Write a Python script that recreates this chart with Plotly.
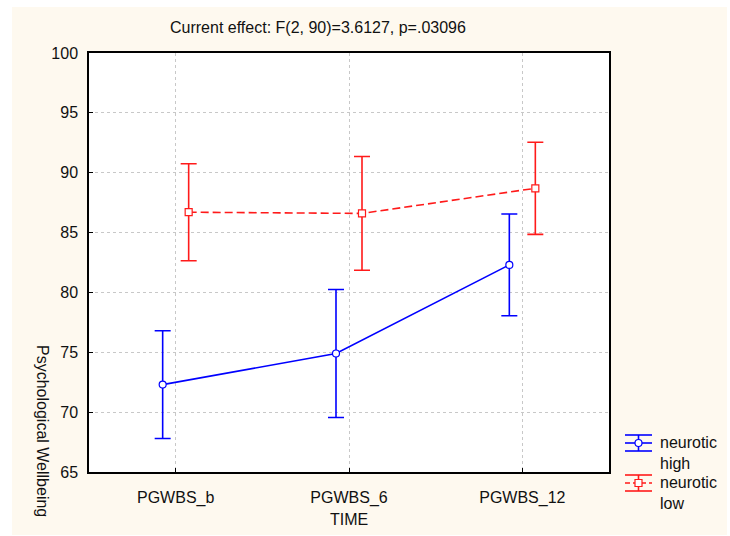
import numpy as np
import plotly.graph_objects as go

# Time points and group means with their confidence half-widths
times = ["PGWBS_b", "PGWBS_6", "PGWBS_12"]
high_mean = [72.3, 74.9, 82.3]
high_err = [4.5, 5.35, 4.25]
low_mean = [86.7, 86.6, 88.7]
low_err = [4.05, 4.75, 3.85]
group_names = ["neurotic<br>high", "neurotic<br>low"]
title_text = "Current effect: F(2, 90)=3.6127, p=.03096"

W, H = 730, 536
ML, MR, MT, MB = 89, 121, 53, 64
PW, PH = W - ML - MR, H - MT - MB

BLUE = "#0000FF"
RED = "#FF1A1A"
CREAM = "#FEF9EF"
FONT = "Arial, Liberation Sans, sans-serif"
FS = 16


def px(x):
    return (x - ML) / PW


def py(y):
    return (H - MB - y) / PH


idx = np.arange(len(times))
shift = 0.075

fig = go.Figure()
fig.add_trace(go.Scatter(
    x=idx - shift, y=high_mean, mode="lines+markers",
    line=dict(color=BLUE, width=1.6),
    marker=dict(symbol="circle", size=7, color="white", line=dict(color=BLUE, width=1.2)),
    error_y=dict(type="data", array=high_err, color=BLUE, thickness=1.6, width=8),
    showlegend=False,
))
fig.add_trace(go.Scatter(
    x=idx + shift, y=low_mean, mode="lines+markers",
    line=dict(color=RED, width=1.6, dash="8px,4px"),
    marker=dict(symbol="square", size=7, color="white", line=dict(color=RED, width=1.2)),
    error_y=dict(type="data", array=low_err, color=RED, thickness=1.6, width=8),
    showlegend=False,
))

shapes = [
    # cream panel behind everything
    dict(type="rect", xref="paper", yref="paper", x0=px(12), x1=px(727), y0=py(535), y1=py(7),
         fillcolor=CREAM, line=dict(width=0), layer="below"),
    # white plotting area
    dict(type="rect", xref="paper", yref="paper", x0=0, x1=1, y0=0, y1=1,
         fillcolor="white", line=dict(width=0), layer="below"),
]


# hand-drawn legend icons (line, caps and marker)
def legend_icon(cy, color, dashed):
    x0, x1, xc = px(625), px(652), px(638.5)
    out = [
        dict(type="line", xref="paper", yref="paper", x0=x0, x1=x1, y0=py(cy - 8), y1=py(cy - 8),
             line=dict(color=color, width=1.6)),
        dict(type="line", xref="paper", yref="paper", x0=x0, x1=x1, y0=py(cy + 8), y1=py(cy + 8),
             line=dict(color=color, width=1.6)),
        dict(type="line", xref="paper", yref="paper", x0=xc, x1=xc, y0=py(cy - 8), y1=py(cy + 8),
             line=dict(color=color, width=1.6)),
        dict(type="line", xref="paper", yref="paper", x0=x0, x1=x1, y0=py(cy), y1=py(cy),
             line=dict(color=color, width=1.6, dash="5px,3px" if dashed else "solid")),
    ]
    out.append(dict(type="rect" if dashed else "circle", xref="paper", yref="paper",
                    x0=px(635), x1=px(642), y0=py(cy + 3.5), y1=py(cy - 3.5),
                    fillcolor="white", line=dict(color=color, width=1.2)))
    return out


shapes += legend_icon(443, BLUE, False)
shapes += legend_icon(483, RED, True)

annotations = [
    dict(text=title_text, x=px(318), y=py(28), xref="paper", yref="paper", showarrow=False,
         xanchor="center", yanchor="middle", font=dict(family=FONT, size=FS, color="#111")),
    dict(text="TIME", x=px(349), y=py(519), xref="paper", yref="paper", showarrow=False,
         xanchor="center", yanchor="middle", font=dict(family=FONT, size=FS, color="#111")),
    dict(text="Psychological Wellbeing", x=px(43), y=py(431), xref="paper", yref="paper",
         showarrow=False, textangle=90, xanchor="center", yanchor="middle",
         font=dict(family=FONT, size=FS, color="#111")),
    dict(text=group_names[0], x=px(658), y=py(453), xref="paper", yref="paper", showarrow=False,
         xanchor="left", yanchor="middle", align="left", font=dict(family=FONT, size=FS, color="#111")),
    dict(text=group_names[1], x=px(658), y=py(493), xref="paper", yref="paper", showarrow=False,
         xanchor="left", yanchor="middle", align="left", font=dict(family=FONT, size=FS, color="#111")),
]

fig.update_layout(
    width=W, height=H, autosize=False,
    margin=dict(l=ML, r=MR, t=MT, b=MB, pad=0),
    paper_bgcolor="white", plot_bgcolor="rgba(0,0,0,0)",
    shapes=shapes, annotations=annotations,
    font=dict(family=FONT, size=FS, color="#111"),
)
fig.update_xaxes(
    range=[-0.5, 2.5], tickvals=list(idx), ticktext=times,
    showline=True, linecolor="black", linewidth=1.5, mirror=True,
    ticks="inside", ticklen=4, tickcolor="black",
    showgrid=True, gridcolor="#C8C8C8", griddash="dot", gridwidth=1,
    zeroline=False, ticklabelstandoff=10,
)
fig.update_yaxes(
    range=[65, 100], dtick=5, tick0=65,
    showline=True, linecolor="black", linewidth=1.5, mirror=True,
    ticks="inside", ticklen=4, tickcolor="black",
    showgrid=True, gridcolor="#C8C8C8", griddash="dot", gridwidth=1,
    zeroline=False, ticklabelstandoff=6,
)

fig.write_html("out.html")
